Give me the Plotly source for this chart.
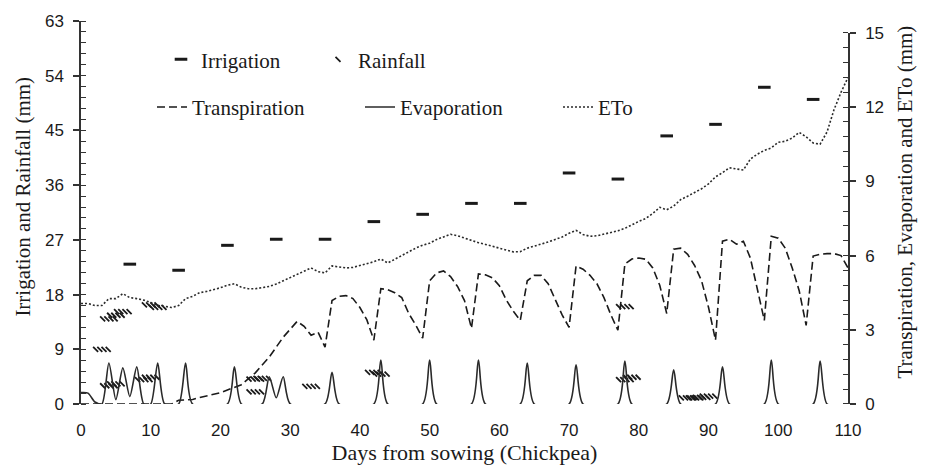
import plotly.graph_objects as go

# ---------------- data ----------------
irr_days = [7, 14, 21, 28, 35, 42, 49, 56, 63, 70, 77, 84, 91, 98, 105]
irr_mm = [23.0, 22.0, 26.1, 27.1, 27.1, 30.0, 31.2, 33.0, 33.0, 38.0, 37.0, 44.1, 46.0, 52.1, 50.1]

rain_days = [3, 4, 5, 6, 10, 11, 4, 5, 9, 10, 25, 25, 26, 33, 42, 43, 78, 78, 79, 87, 88, 89, 90]
rain_mm = [9.0, 14.0, 14.6, 15.2, 16.3, 15.9, 3.0, 3.3, 4.0, 4.4, 2.0, 4.1, 4.2, 2.9, 5.2, 4.9,
           16.0, 4.0, 4.4, 1.0, 1.0, 1.1, 1.3]

trans_days = [0, 13, 14, 16, 17, 20, 23, 25, 27, 29, 31, 32, 33, 34, 35,
              36, 37, 38, 39, 40, 41, 42, 43, 44, 45, 46, 47, 48, 49,
              50, 51, 52, 53, 54, 55, 56, 57, 58, 59, 60, 61, 62, 63,
              64, 65, 66, 67, 68, 69, 70, 71, 72, 73, 74, 75, 76, 77,
              78, 79, 80, 81, 82, 83, 84, 85, 86, 87, 88, 89, 90, 91,
              92, 93, 94, 95, 96, 97, 98, 99, 100, 101, 102, 103, 104,
              105, 106, 107, 108, 109, 110]
trans_mm = [0, 0, 0.15, 0.18, 0.26, 0.46, 0.78, 1.26, 1.9, 2.7, 3.34, 3.14, 2.78, 2.9, 2.3,
            4.18, 4.35, 4.38, 4.26, 3.9, 3.4, 2.58, 4.66, 4.62, 4.5, 4.3, 3.66, 3.2, 2.66,
            4.98, 5.3, 5.38, 5.15, 4.75, 4.18, 3.06, 5.26, 5.22, 5.1, 4.78, 4.2, 3.75, 3.38,
            4.98, 5.2, 5.2, 4.86, 4.2, 3.6, 3.1, 5.58, 5.45, 5.2, 4.86, 4.3, 3.6, 2.98,
            5.66, 5.86, 5.9, 5.85, 5.5, 4.8, 3.66, 6.26, 6.3, 6.05, 5.6, 4.98, 3.9, 2.58,
            6.58, 6.66, 6.46, 6.58, 5.9, 4.7, 3.38, 6.78, 6.7, 6.3, 5.5, 4.58, 3.18,
            5.98, 6.05, 6.08, 6.08, 6.0, 5.5]

evap_days = [0, 1, 2, 3, 4, 5, 6, 7, 8, 9, 10, 11, 12, 14, 15, 16, 21, 22, 23, 26, 27, 28, 29, 30,
             35, 36, 37, 42, 43, 44, 49, 50, 51, 56, 57, 58, 63, 64, 65, 70, 71, 72, 77, 78, 79,
             84, 85, 86, 91, 92, 93, 98, 99, 100, 105, 106, 107, 110]
evap_mm = [0.46, 0.44, 0.08, 0, 1.66, 0.18, 1.46, 0.3, 1.5, 0, 0, 1.66, 0, 0, 1.66, 0, 0, 1.5, 0,
           0, 1.1, 0.25, 1.1, 0, 0, 1.28, 0, 0, 1.78, 0, 0, 1.78, 0, 0, 1.78, 0, 0, 1.66, 0,
           0, 1.58, 0, 0, 1.74, 0, 0, 1.38, 0, 0, 1.5, 0, 0, 1.78, 0, 0, 1.74, 0, 0]

eto_days = list(range(0, 111))
eto_mm = [4.06, 4.06, 3.98, 3.98, 4.26, 4.26, 4.46, 4.3, 4.26, 4.2, 4.1, 3.98, 3.95, 3.9, 3.98,
          4.26, 4.35, 4.5, 4.55, 4.62, 4.7, 4.8, 4.86, 4.72, 4.66, 4.66, 4.7, 4.75, 4.85, 4.98,
          5.1, 5.26, 5.38, 5.5, 5.35, 5.3, 5.58, 5.55, 5.5, 5.52, 5.6, 5.66, 5.75, 5.86, 5.7,
          5.85, 6.0, 6.18, 6.3, 6.42, 6.5, 6.65, 6.75, 6.86, 6.8, 6.7, 6.6, 6.52, 6.45, 6.38,
          6.3, 6.22, 6.15, 6.16, 6.3, 6.38, 6.45, 6.55, 6.65, 6.75, 6.9, 7.02, 6.85, 6.78, 6.8,
          6.86, 6.92, 7.0, 7.1, 7.25, 7.38, 7.5, 7.7, 7.95, 7.85, 8.0, 8.26, 8.4, 8.55, 8.7,
          8.9, 9.18, 9.35, 9.55, 9.5, 9.46, 9.9, 10.1, 10.25, 10.35, 10.58, 10.62, 10.75, 10.98,
          10.8, 10.55, 10.5, 11.0, 11.9, 12.6, 13.2]

left_ticks = [0, 9, 18, 27, 36, 45, 54, 63]
right_ticks = [0, 3, 6, 9, 12, 15]
x_ticks = [0, 10, 20, 30, 40, 50, 60, 70, 80, 90, 100, 110]

# ---------------- styles ----------------
INK = "#1a1a1a"
SERIF = "Liberation Serif, Times New Roman, serif"
SANS = "Liberation Sans, Arial, sans-serif"

# rainfall hatch: a few diagonal strokes around each value
hatch_offsets = [-0.9, -0.3, 0.3, 0.9]
rx, ry = [], []
for d, v in zip(rain_days, rain_mm):
    for o in hatch_offsets:
        rx.append(d + o)
        ry.append(v)

fig = go.Figure()

fig.add_trace(go.Scatter(
    x=irr_days, y=irr_mm, mode="markers", name="Irrigation",
    marker=dict(symbol="line-ew", size=9, line=dict(width=3, color=INK)),
    xaxis="x", yaxis="y", legend="legend", showlegend=True))

fig.add_trace(go.Scatter(
    x=rx, y=ry, mode="markers", name="Rainfall",
    marker=dict(symbol="line-nw", size=5, line=dict(width=1.8, color=INK)),
    xaxis="x", yaxis="y", legend="legend2", showlegend=True))

fig.add_trace(go.Scatter(
    x=trans_days, y=trans_mm, mode="lines", name="Transpiration",
    line=dict(color=INK, width=1.6, dash="8px,4px"),
    xaxis="x2", yaxis="y2", legend="legend3"))

fig.add_trace(go.Scatter(
    x=evap_days, y=evap_mm, mode="lines", name="Evaporation",
    line=dict(color="#2a2a2a", width=1.6, shape="spline", smoothing=0.7),
    xaxis="x2", yaxis="y2", legend="legend4"))

fig.add_trace(go.Scatter(
    x=eto_days, y=eto_mm, mode="lines", name="ETo",
    line=dict(color="#2a2a2a", width=1.6, dash="2px,2px"),
    xaxis="x2", yaxis="y2", legend="legend5"))

W, H = 928, 469
ML, MR, MT, MB = 81, 80, 18, 65
plot_w = W - ML - MR
plot_h = H - MT - MB


def px_to_paper_x(px):
    return (px - ML) / plot_w


def px_to_paper_y(py):
    return (H - MB - py) / plot_h


legend_common = dict(
    orientation="h", xanchor="left", yanchor="middle",
    bgcolor="rgba(0,0,0,0)", borderwidth=0,
    font=dict(family=SERIF, size=21, color=INK),
)

row1 = px_to_paper_y(57)
row2 = px_to_paper_y(105)

fig.update_layout(
    width=W, height=H,
    margin=dict(l=ML, r=MR, t=MT, b=MB, pad=0),
    paper_bgcolor="white", plot_bgcolor="rgba(0,0,0,0)",
    font=dict(family=SANS, color=INK),
    xaxis=dict(
        domain=[0, 1], range=[0, 110], tickvals=x_ticks,
        showline=False, zeroline=False, showgrid=False, ticks="",
        tickfont=dict(family=SANS, size=17, color=INK), ticklabelstandoff=14,
        title=dict(text="Days from sowing (Chickpea)", font=dict(family=SERIF, size=22, color=INK),
                   standoff=2),
    ),
    yaxis=dict(
        domain=[0, 1], range=[0, 63], tickvals=left_ticks,
        showline=True, linecolor="#333", linewidth=1.5, zeroline=False, showgrid=False,
        ticks="outside", ticklen=6, tickwidth=1.5, tickcolor="#333",
        minor=dict(dtick=1.8, ticks="inside", ticklen=5, tickwidth=1.2, tickcolor="#333"),
        tickfont=dict(family=SANS, size=17, color=INK), ticklabelstandoff=6,
    ),
    xaxis2=dict(domain=[0, 1], range=[0, 110], anchor="y2", matches="x", visible=False),
    yaxis2=dict(
        domain=[0, px_to_paper_y(30)], range=[0, 15], tickvals=right_ticks, anchor="x2", side="right",
        showline=True, linecolor="#333", linewidth=1.5, zeroline=False, showgrid=False,
        ticks="outside", ticklen=6, tickwidth=1.5, tickcolor="#333",
        minor=dict(dtick=0.6, ticks="inside", ticklen=5, tickwidth=1.2, tickcolor="#333"),
        tickfont=dict(family=SANS, size=17, color=INK), ticklabelstandoff=6,
    ),
    legend=dict(x=px_to_paper_x(161), y=row1, **legend_common),
    legend2=dict(x=px_to_paper_x(318), y=row1, **legend_common),
    legend3=dict(x=px_to_paper_x(152), y=row2, **legend_common),
    legend4=dict(x=px_to_paper_x(360), y=row2, **legend_common),
    legend5=dict(x=px_to_paper_x(558), y=row2, **legend_common),
    annotations=[
        dict(text="Irrigation and Rainfall (mm)", textangle=-90, showarrow=False,
             xref="paper", yref="paper", x=px_to_paper_x(23), y=px_to_paper_y(195),
             xanchor="center", yanchor="middle",
             font=dict(family=SERIF, size=21, color=INK)),
        dict(text="Transpiration, Evaporation and ETo (mm)", textangle=-90, showarrow=False,
             xref="paper", yref="paper", x=px_to_paper_x(905), y=px_to_paper_y(201),
             xanchor="center", yanchor="middle",
             font=dict(family=SERIF, size=21, color=INK)),
    ],
)

fig.write_html("out.html")
